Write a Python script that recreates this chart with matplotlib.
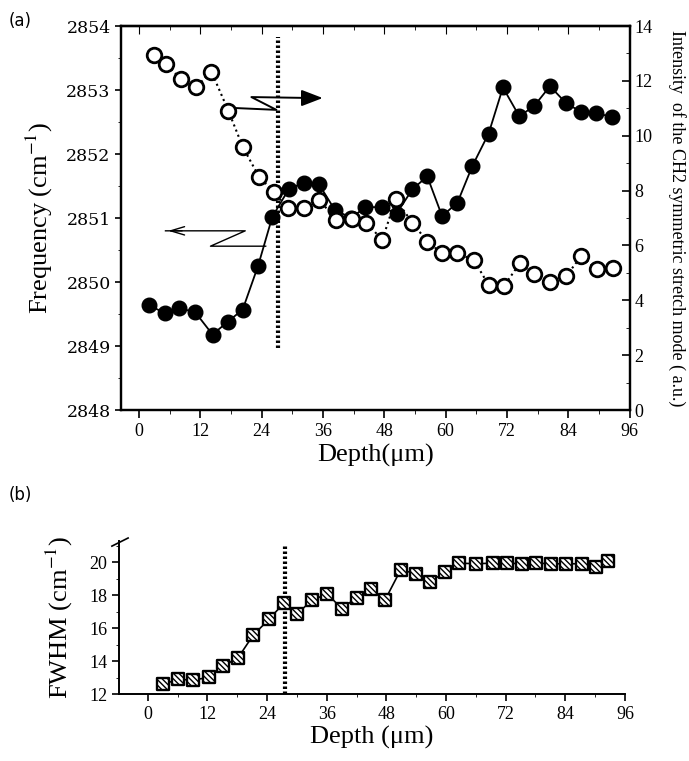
import numpy as np
import matplotlib.pyplot as plt
from matplotlib.ticker import MultipleLocator

plt.rcParams['font.family'] = ['Liberation Serif', 'DejaVu Serif']
plt.rcParams['mathtext.fontset'] = 'stix'

# (a) CH2 symmetric stretch: frequency (filled) and intensity (open)
depth_f = [2.0, 5.1, 7.9, 11.0, 14.4, 17.4, 20.3, 23.3, 26.1, 29.3, 32.2,
           35.2, 38.3, 41.5, 44.3, 47.5, 50.4, 53.5, 56.4, 59.3, 62.3, 65.2,
           68.4, 71.2, 74.4, 77.3, 80.4, 83.6, 86.5, 89.4, 92.5]
freq = [2849.64, 2849.51, 2849.59, 2849.53, 2849.18, 2849.38, 2849.57,
        2850.25, 2851.02, 2851.45, 2851.55, 2851.53, 2851.13, 2851.00,
        2851.17, 2851.17, 2851.07, 2851.45, 2851.65, 2851.03, 2851.24,
        2851.81, 2852.32, 2853.04, 2852.59, 2852.75, 2853.06, 2852.79,
        2852.66, 2852.64, 2852.58]

depth_i = [3.0, 5.4, 8.2, 11.1, 14.2, 17.5, 20.3, 23.5, 26.5, 29.1, 32.2,
           35.3, 38.6, 41.6, 44.5, 47.6, 50.2, 53.5, 56.4, 59.3, 62.3, 65.5,
           68.4, 71.4, 74.5, 77.3, 80.4, 83.6, 86.5, 89.5, 92.8]
intensity = [12.94, 12.61, 12.06, 11.76, 12.33, 10.91, 9.60, 8.50, 7.94,
             7.35, 7.35, 7.66, 6.93, 6.95, 6.83, 6.20, 7.68, 6.83, 6.14,
             5.71, 5.71, 5.47, 4.56, 4.52, 5.35, 4.96, 4.68, 4.89, 5.61,
             5.13, 5.17]

# (b) FWHM
depth_w = [3.0, 6.1, 9.1, 12.3, 15.2, 18.2, 21.2, 24.4, 27.4, 30.0, 33.1,
           36.1, 39.0, 42.0, 45.0, 47.7, 50.9, 53.9, 56.7, 59.8, 62.6, 66.0,
           69.4, 72.2, 75.2, 78.1, 81.2, 84.2, 87.3, 90.1, 92.6]
fwhm = [12.59, 12.89, 12.85, 13.01, 13.70, 14.22, 15.58, 16.55, 17.54,
        16.89, 17.70, 18.10, 17.19, 17.86, 18.40, 17.70, 19.56, 19.31,
        18.81, 19.41, 19.96, 19.92, 19.96, 19.96, 19.92, 19.96, 19.92,
        19.92, 19.92, 19.72, 20.08]

boundary_a = 27.2
boundary_b = 27.7

fig = plt.figure(figsize=(6.89, 7.61), dpi=100)

# ---------------- panel (a)
ax = fig.add_axes([0.1756, 0.4612, 0.7384, 0.5046])
ax2 = ax.twinx()

ax.plot(depth_f, freq, '-', color='black', lw=1.3, marker='o', ms=10.5,
        mfc='black', mec='black', zorder=3)
ax2.plot(depth_i, intensity, ':', color='black', lw=1.5, marker='o', ms=10.5,
         mfc='white', mec='black', mew=2.0, zorder=3)

ax.plot([boundary_a, boundary_a], [2848.97, 2853.83], color='black', lw=3,
        linestyle=(0, (0.6, 0.6)), zorder=2)

# zigzag arrows
ax.plot([18.5, 26.9, 22.0, 34.0], [2852.72, 2852.69, 2852.89, 2852.875],
        color='black', lw=1.4)
ax.annotate('', xy=(36.5, 2852.875), xytext=(32.0, 2852.875),
            arrowprops=dict(arrowstyle='-|>,head_length=1.3,head_width=0.5',
                            color='black', lw=1.4))
ax.plot([24.8, 14.0, 20.8, 5.2], [2850.56, 2850.56, 2850.8, 2850.8],
        color='black', lw=1.0)
ax.annotate('', xy=(5.2, 2850.8), xytext=(9.0, 2850.8),
            arrowprops=dict(arrowstyle='->,head_length=1.0,head_width=0.3',
                            color='black', lw=1.0))

ax.set_xlim(-3.5, 96)
ax.set_ylim(2848, 2854)
ax2.set_ylim(0, 14)
ax.xaxis.set_major_locator(MultipleLocator(12))
ax.xaxis.set_minor_locator(MultipleLocator(6))
ax.yaxis.set_major_locator(MultipleLocator(1))
ax.yaxis.set_minor_locator(MultipleLocator(0.5))
ax2.yaxis.set_major_locator(MultipleLocator(2))
ax2.yaxis.set_minor_locator(MultipleLocator(1))

ax.tick_params(axis='x', which='both', direction='out', labelsize=13)
ax.tick_params(axis='x', which='major', length=6, width=1.2)
ax.tick_params(axis='x', which='minor', length=3)
ax.tick_params(axis='y', which='major', direction='out', length=4,
               labelsize=12.5, width=1.2)
ax.tick_params(axis='y', which='minor', direction='out', length=2)
ax2.tick_params(axis='y', which='major', direction='in', length=6,
                labelsize=13, width=1.2)
ax2.tick_params(axis='y', which='minor', direction='in', length=3)
top = ax.secondary_xaxis('top')
top.xaxis.set_major_locator(MultipleLocator(12))
top.xaxis.set_minor_locator(MultipleLocator(6))
top.tick_params(which='both', direction='in', labeltop=False)
top.tick_params(which='major', length=6)
top.tick_params(which='minor', length=3)
for a in (ax, ax2):
    for s in a.spines.values():
        s.set_linewidth(1.6)
top.spines['top'].set_linewidth(1.6)

ax.set_yticklabels([f'{int(v)}' for v in ax.get_yticks()],
                   family='DejaVu Serif')
ax.set_xlabel('Depth(\u03bcm)', fontsize=19, labelpad=3)
ax.set_ylabel('Frequency (cm$^{-1}$)', fontsize=19, labelpad=8)
ax2.set_ylabel('Intensity  of the CH2 symmetric stretch mode ( a.u.)',
               fontsize=13, rotation=-90, labelpad=4, va='bottom')
ax2.yaxis.set_label_coords(1.075, 0.5)
fig.text(0.012, 0.972, '(a)', fontsize=12, family='DejaVu Sans', va='center')

# ---------------- panel (b)
bx = fig.add_axes([0.1727, 0.088, 0.7343, 0.201])
bx.plot(depth_w, fwhm, '-', color='black', lw=1.2, zorder=2)
bx.scatter(depth_w, fwhm, marker='s', s=75, facecolor='white',
           edgecolor='black', linewidth=1.7, hatch='\\\\\\\\\\\\', zorder=3)
bx.plot([boundary_b, boundary_b], [12, 21.0], color='black', lw=3,
        linestyle=(0, (0.6, 0.6)), zorder=2)

bx.set_xlim(-5.8, 96)
bx.set_ylim(12, 21.3)
bx.spines['top'].set_visible(False)
bx.spines['right'].set_visible(False)
bx.spines['left'].set_linewidth(1.4)
bx.spines['bottom'].set_linewidth(1.4)
bx.xaxis.set_major_locator(MultipleLocator(12))
bx.xaxis.set_minor_locator(MultipleLocator(6))
bx.yaxis.set_major_locator(MultipleLocator(2))
bx.yaxis.set_minor_locator(MultipleLocator(1))
bx.tick_params(which='both', direction='out', labelsize=13)
bx.tick_params(which='major', length=5, width=1.2)
bx.tick_params(which='minor', length=2.5)
bx.plot([-0.014, 0.018], [0.967, 1.02], transform=bx.transAxes,
        color='black', lw=1.2, clip_on=False)
bx.set_xlabel('Depth (\u03bcm)', fontsize=19, labelpad=2)
bx.set_ylabel('FWHM (cm$^{-1}$)', fontsize=19, labelpad=10)
fig.text(0.012, 0.35, '(b)', fontsize=12, family='DejaVu Sans', va='center')

fig.savefig('out.png', dpi=100)
